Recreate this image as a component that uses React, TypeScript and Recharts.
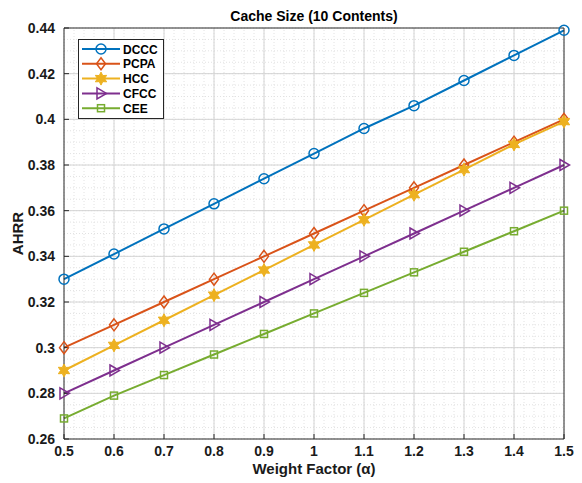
import React from 'react';
import { LineChart, Line, XAxis, YAxis, ReferenceLine, Legend, Label } from 'recharts';

// weight factor alpha
const alphaValues = [0.5, 0.6, 0.7, 0.8, 0.9, 1.0, 1.1, 1.2, 1.3, 1.4, 1.5];

const dcccValues = [0.33, 0.341, 0.352, 0.363, 0.374, 0.385, 0.396, 0.406, 0.417, 0.428, 0.439];
const pcpaValues = [0.3, 0.31, 0.32, 0.33, 0.34, 0.35, 0.36, 0.37, 0.38, 0.39, 0.4];
const hccValues = [0.29, 0.301, 0.312, 0.323, 0.334, 0.345, 0.356, 0.367, 0.378, 0.389, 0.399];
const cfccValues = [0.28, 0.29, 0.3, 0.31, 0.32, 0.33, 0.34, 0.35, 0.36, 0.37, 0.38];
const ceeValues = [0.269, 0.279, 0.288, 0.297, 0.306, 0.315, 0.324, 0.333, 0.342, 0.351, 0.36];

const xTicks = [0.5, 0.6, 0.7, 0.8, 0.9, 1, 1.1, 1.2, 1.3, 1.4, 1.5];
const yTicks = [0.26, 0.28, 0.3, 0.32, 0.34, 0.36, 0.38, 0.4, 0.42, 0.44];

// minor grid positions (5 per x major, 4 per y major)
const xMinor: number[] = [];
for (let i = 0; i <= 50; i++) xMinor.push(+(0.5 + i * 0.02).toFixed(3));
const yMinor: number[] = [];
for (let i = 0; i <= 36; i++) yMinor.push(+(0.26 + i * 0.005).toFixed(4));

type MarkerKind = 'circle' | 'diamond' | 'hexagram' | 'triangle' | 'square';

const series: { key: string; color: string; marker: MarkerKind }[] = [
  { key: 'DCCC', color: '#0072BD', marker: 'circle' },
  { key: 'PCPA', color: '#D95319', marker: 'diamond' },
  { key: 'HCC', color: '#EDB120', marker: 'hexagram' },
  { key: 'CFCC', color: '#7E2F8E', marker: 'triangle' },
  { key: 'CEE', color: '#77AC30', marker: 'square' },
];

const data = alphaValues.map((a, i) => ({
  a,
  DCCC: dcccValues[i],
  PCPA: pcpaValues[i],
  HCC: hccValues[i],
  CFCC: cfccValues[i],
  CEE: ceeValues[i],
}));

const FONT = '"Liberation Sans", Arial, sans-serif';
const AXIS = '#262626';

function hexagramPoints(cx: number, cy: number, ro: number, ri: number) {
  const pts: string[] = [];
  for (let k = 0; k < 12; k++) {
    const ang = (Math.PI / 6) * k - Math.PI / 2;
    const r = k % 2 === 0 ? ro : ri;
    pts.push(`${cx + r * Math.cos(ang)},${cy + r * Math.sin(ang)}`);
  }
  return pts.join(' ');
}

function Marker({ kind, cx, cy, color }: { kind: MarkerKind; cx: number; cy: number; color: string }) {
  const sw = 1.5;
  switch (kind) {
    case 'circle':
      return <circle cx={cx} cy={cy} r={5} fill="none" stroke={color} strokeWidth={sw} />;
    case 'diamond':
      return (
        <polygon
          points={`${cx},${cy - 6} ${cx + 4.5},${cy} ${cx},${cy + 6} ${cx - 4.5},${cy}`}
          fill="none"
          stroke={color}
          strokeWidth={sw}
        />
      );
    case 'hexagram':
      return <polygon points={hexagramPoints(cx, cy, 6.5, 3.5)} fill={color} stroke={color} strokeWidth={1} />;
    case 'triangle':
      return (
        <polygon
          points={`${cx - 4},${cy - 5.5} ${cx + 5.5},${cy} ${cx - 4},${cy + 5.5}`}
          fill="none"
          stroke={color}
          strokeWidth={sw}
        />
      );
    default:
      return <rect x={cx - 3.5} y={cy - 3.5} width={7} height={7} fill="none" stroke={color} strokeWidth={sw} />;
  }
}

const renderLegend = () => (
  <svg width={86} height={80}>
    <rect x={0.5} y={0.5} width={85} height={79} fill="#fff" stroke={AXIS} strokeWidth={1} />
    {series.map((s, i) => {
      const y = 10 + i * 14.8;
      return (
        <g key={s.key}>
          <line x1={4} x2={42} y1={y} y2={y} stroke={s.color} strokeWidth={2} />
          <Marker kind={s.marker} cx={23} cy={y} color={s.color} />
          <text x={45} y={y + 4.5} fontFamily={FONT} fontWeight="bold" fontSize={12} fill="#000">
            {s.key}
          </text>
        </g>
      );
    })}
  </svg>
);

const tickStyle = { fontFamily: FONT, fontWeight: 'bold' as const, fontSize: 14, fill: '#1a1a1a' };

export default function App() {
  return (
    <div style={{ position: 'absolute', left: 0, top: 0, width: 582, height: 483, background: '#fff' }}>
      <LineChart width={582} height={483} data={data} margin={{ top: 26, right: 16, left: 0, bottom: 0 }}>
        {/* minor axes first so they hug the plot area */}
        <XAxis
          xAxisId="xm"
          dataKey="a"
          type="number"
          domain={[0.5, 1.5]}
          ticks={xMinor}
          tick={false}
          tickSize={-3}
          axisLine={false}
          tickLine={{ stroke: AXIS }}
          height={1}
        />
        <XAxis
          xAxisId="xtm"
          orientation="top"
          dataKey="a"
          type="number"
          domain={[0.5, 1.5]}
          ticks={xMinor}
          tick={false}
          tickSize={-3}
          axisLine={false}
          tickLine={{ stroke: AXIS }}
          height={1}
        />
        <YAxis
          yAxisId="ym"
          type="number"
          domain={[0.26, 0.44]}
          ticks={yMinor}
          tick={false}
          tickSize={-3}
          axisLine={false}
          tickLine={{ stroke: AXIS }}
          width={1}
        />
        <YAxis
          yAxisId="yrm"
          orientation="right"
          type="number"
          domain={[0.26, 0.44]}
          ticks={yMinor}
          tick={false}
          tickSize={-3}
          axisLine={false}
          tickLine={{ stroke: AXIS }}
          width={1}
        />
        <XAxis
          dataKey="a"
          type="number"
          domain={[0.5, 1.5]}
          ticks={xTicks}
          tick={tickStyle}
          tickSize={-5}
          tickMargin={12}
          axisLine={{ stroke: AXIS }}
          tickLine={{ stroke: AXIS }}
          height={43}
        >
          <Label
            value="Weight Factor (α)"
            position="insideBottom"
            offset={8}
            style={{ fontFamily: FONT, fontWeight: 'bold', fontSize: 15, fill: '#1a1a1a' }}
          />
        </XAxis>
        <XAxis
          xAxisId="xt"
          orientation="top"
          dataKey="a"
          type="number"
          domain={[0.5, 1.5]}
          ticks={xTicks}
          tick={false}
          tickSize={-5}
          axisLine={{ stroke: AXIS }}
          tickLine={{ stroke: AXIS }}
          height={1}
        >
          <Label
            value="Cache Size (10 Contents)"
            position="top"
            offset={6}
            style={{ fontFamily: FONT, fontWeight: 'bold', fontSize: 14, fill: '#000' }}
          />
        </XAxis>
        <YAxis
          type="number"
          domain={[0.26, 0.44]}
          ticks={yTicks}
          tick={tickStyle}
          tickSize={-5}
          tickMargin={14}
          axisLine={{ stroke: AXIS }}
          tickLine={{ stroke: AXIS }}
          width={63}
        >
          <Label
            value="AHRR"
            angle={-90}
            position="insideLeft"
            offset={17}
            style={{ fontFamily: FONT, fontWeight: 'bold', fontSize: 15, fill: '#1a1a1a', textAnchor: 'middle' }}
          />
        </YAxis>
        <YAxis
          yAxisId="yr"
          orientation="right"
          type="number"
          domain={[0.26, 0.44]}
          ticks={yTicks}
          tick={false}
          tickSize={-5}
          axisLine={{ stroke: AXIS }}
          tickLine={{ stroke: AXIS }}
          width={1}
        />
        {/* grid: dotted minor lines, solid light major lines */}
        {xMinor.map((v) => (
          <ReferenceLine key={`xm-${v}`} x={v} stroke="#e2e2e2" strokeDasharray="1 2" />
        ))}
        {yMinor.map((v) => (
          <ReferenceLine key={`ym-${v}`} y={v} stroke="#e2e2e2" strokeDasharray="1 2" />
        ))}
        {xTicks.slice(1, -1).map((v) => (
          <ReferenceLine key={`xg-${v}`} x={v} stroke="#d4d4d4" />
        ))}
        {yTicks.slice(1, -1).map((v) => (
          <ReferenceLine key={`yg-${v}`} y={v} stroke="#d4d4d4" />
        ))}
        {series.map((s) => (
          <Line
            key={s.key}
            type="linear"
            dataKey={s.key}
            stroke={s.color}
            strokeWidth={2}
            isAnimationActive={false}
            dot={(p: any) => <Marker key={`${s.key}-${p.index}`} kind={s.marker} cx={p.cx} cy={p.cy} color={s.color} />}
            activeDot={false}
          />
        ))}
        <Legend
          layout="vertical"
          align="center"
          verticalAlign="middle"
          content={renderLegend}
          wrapperStyle={{ left: 78, top: 39, width: 86, height: 80, lineHeight: 0 }}
        />
      </LineChart>
    </div>
  );
}
